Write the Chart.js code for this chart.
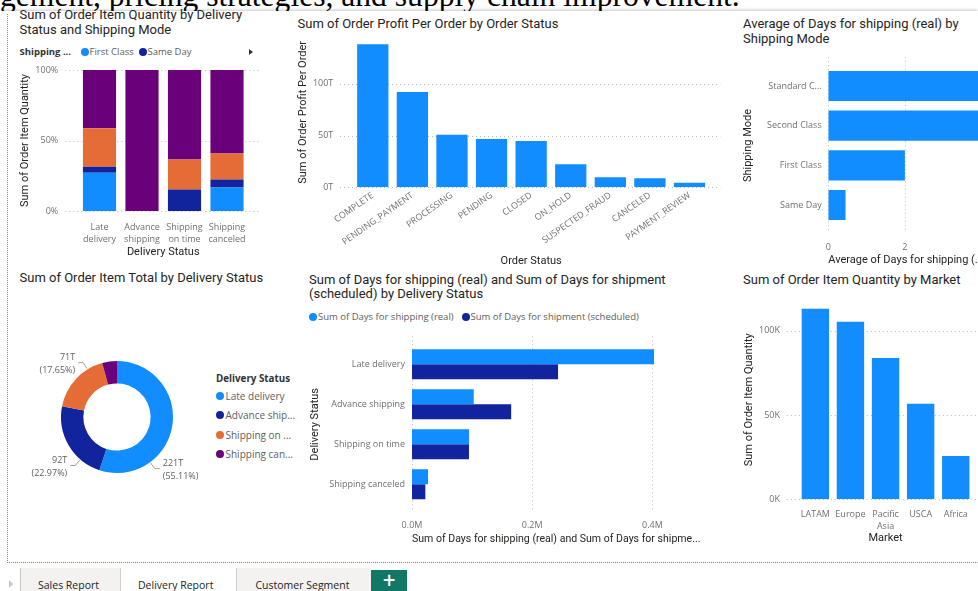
<!DOCTYPE html>
<html><head><meta charset="utf-8">
<script src="https://cdn.jsdelivr.net/npm/chart.js@4.4.0/dist/chart.umd.min.js"></script>
<style>
html,body{margin:0;padding:0;background:#fff;}
body{width:978px;height:591px;overflow:hidden;position:relative;font-family:'Open Sans',sans-serif;}
.abs{position:absolute;white-space:nowrap;}
#hdr{left:0;top:-19.6px;font-family:'Liberation Serif','Times New Roman',serif;font-size:31.6px;line-height:32px;color:#000;}
#dash{left:0;top:11px;width:978px;height:580px;background:#fff;box-shadow:0 -1px 3px rgba(0,0,0,.22);}
#frame{left:7px;top:14px;width:990px;height:548px;border-left:1px dotted #8a8a8a;border-bottom:1px dotted #8a8a8a;}
.title{font-family:Roboto,sans-serif;font-size:13px;line-height:14.5px;color:#252423;}
canvas{position:absolute;}
</style></head>
<body>
<div id="hdr" class="abs">gement, pricing strategies, and supply chain improvement.</div>
<div id="dash" class="abs"></div>
<div id="frame" class="abs"></div>

<div class="abs title" style="left:19.5px;top:8.25px">Sum of Order Item Quantity by Delivery<br>Status and Shipping Mode</div>
<div class="abs title" style="left:297.5px;top:17px">Sum of Order Profit Per Order by Order Status</div>
<div class="abs title" style="left:743px;top:17px">Average of Days for shipping (real) by<br>Shipping Mode</div>
<div class="abs title" style="left:19.5px;top:271px">Sum of Order Item Total by Delivery Status</div>
<div class="abs title" style="left:309px;top:272.7px">Sum of Days for shipping (real) and Sum of Days for shipment<br>(scheduled) by Delivery Status</div>
<div class="abs title" style="left:743px;top:272.7px">Sum of Order Item Quantity by Market</div>

<!-- tab bar -->
<div class="abs" style="left:9px;top:580px;width:0;height:0;border-left:4px solid #c8c6c4;border-top:4px solid transparent;border-bottom:4px solid transparent"></div>
<div class="abs" style="left:20px;top:568px;width:100px;height:23px;background:#f3f2f1;border-left:1px solid #c8c6c4;box-sizing:border-box"></div>
<div class="abs" style="left:120px;top:568px;width:117px;height:23px;background:#fff;border-left:1px solid #d2d0ce;border-right:1px solid #d2d0ce;box-sizing:border-box"></div>
<div class="abs" style="left:237px;top:568px;width:134px;height:23px;background:#f3f2f1"></div>
<div class="abs" style="left:371px;top:570px;width:36px;height:21px;background:#117865;color:#fff;font:bold 17px/21px 'DejaVu Sans',sans-serif;text-align:center">+</div>

<script>
// ---------------- DATA ----------------
const deliveryStatus = ['Late delivery', 'Advance shipping', 'Shipping on time', 'Shipping canceled'];
const shippingModes = ['First Class', 'Same Day', 'Second Class', 'Standard Class'];
// share (%) of order item quantity per shipping mode, for each delivery status
const pctFirstClass    = [27.1, 0, 0, 16.7];
const pctSameDay       = [4.3, 0, 15.3, 5.7];
const pctSecondClass   = [27.3, 0, 21.3, 18.4];
const pctStandardClass = [41.3, 100, 63.4, 59.2];
const pctTicks = [0, 50, 100];
const pctTickLabels = ['0%', '50%', '100%'];

const orderStatus = ['COMPLETE', 'PENDING_PAYMENT', 'PROCESSING', 'PENDING', 'CLOSED', 'ON_HOLD', 'SUSPECTED_FRAUD', 'CANCELED', 'PAYMENT_REVIEW'];
const profitPerOrderT = [138.3, 92.2, 50.9, 46.7, 44.8, 22.2, 9.7, 8.7, 4.5];
const profitTicks = [0, 50, 100];
const profitTickLabels = ['0T', '50T', '100T'];

const shipModeRows = ['Standard Class', 'Second Class', 'First Class', 'Same Day'];
const avgDaysReal = [4.0, 3.99, 2.0, 0.45];
const avgDaysTicks = [0, 2, 4];
const avgDaysTickLabels = ['0', '2', '4'];

const itemTotalT = [221.16, 92.18, 70.83, 17.14];

const daysReal = [402700, 102700, 94800, 26600];
const daysScheduled = [243000, 165000, 94800, 22200];
const daysTicks = [0, 200000, 400000];
const daysTickLabels = ['0.0M', '0.2M', '0.4M'];

const markets = ['LATAM', 'Europe', 'Pacific Asia', 'USCA', 'Africa'];
const marketQty = [113000, 105300, 83800, 56700, 25700];
const qtyTicks = [0, 50000, 100000];
const qtyTickLabels = ['0K', '50K', '100K'];

// ---------------- STYLE ----------------
const C_BLUE = '#118DFF', C_NAVY = '#12239E', C_ORANGE = '#E66C37', C_PURPLE = '#6B007B';
const TICK_FONT = {family: "'Open Sans', sans-serif", size: 9, lineHeight: 1.4};
const TICK_COLOR = '#707070';
const AX_FONT = {family: 'Roboto, sans-serif', size: 11, lineHeight: 1.2};
const AX_COLOR = '#252423';

// ---------------- HTML helpers ----------------
function addText(txt, left, cy, css) {
  const d = document.createElement('div');
  d.className = 'abs';
  d.textContent = txt;
  Object.assign(d.style, {left: left + 'px', top: (cy - 7) + 'px', lineHeight: '14px', fontSize: '9.5px', color: '#605e5c'}, css || {});
  document.body.appendChild(d);
}
function addDot(cx, cy, color, size) {
  const s = size || 8;
  const d = document.createElement('div');
  d.className = 'abs';
  Object.assign(d.style, {left: (cx - s / 2) + 'px', top: (cy - s / 2) + 'px', width: s + 'px', height: s + 'px', borderRadius: '50%', background: color});
  document.body.appendChild(d);
}

// legends
addText('Shipping ...', 19.5, 52, {fontWeight: 'bold', color: '#333'});
addDot(84.5, 52, C_BLUE); addText(shippingModes[0], 89.5, 52);
addDot(142.7, 52, C_NAVY); addText(shippingModes[1], 147.5, 52);
(function(){const d=document.createElement('div');d.className='abs';Object.assign(d.style,{left:'249px',top:'48.5px',width:0,height:0,borderLeft:'4px solid #333',borderTop:'3.5px solid transparent',borderBottom:'3.5px solid transparent'});document.body.appendChild(d);})();

addText('Delivery Status', 216, 379, {fontWeight: 'bold', color: '#333', fontSize: '9.8px'});
const donutLegendText = ['Late delivery', 'Advance ship...', 'Shipping on ...', 'Shipping can...'];
const donutColors = [C_BLUE, C_NAVY, C_ORANGE, C_PURPLE];
[396, 415.3, 434.7, 454].forEach((y, i) => { addDot(220, y, donutColors[i]); addText(donutLegendText[i], 225.5, y, {fontSize: '10px'}); });

addDot(313, 317, C_BLUE); addText('Sum of Days for shipping (real)', 318, 317);
addDot(465.5, 317, C_NAVY); addText('Sum of Days for shipment (scheduled)', 470.5, 317);

// tab labels
addText('Sales Report', 38, 585, {fontSize: '10.5px', color: '#252423'});
addText('Delivery Report', 138, 585, {fontSize: '10.5px', color: '#201f1e'});
addText('Customer Segment', 255.5, 585, {fontSize: '10.5px', color: '#252423'});

// ---------------- Chart helpers ----------------
const dotGrid = {
  id: 'dotGrid',
  beforeDatasetsDraw(chart, args, opts) {
    const s = chart.scales[opts.axis];
    const ca = chart.chartArea;
    const ctx = chart.ctx;
    ctx.save();
    ctx.strokeStyle = '#bdbbb9';
    ctx.lineWidth = 1;
    ctx.setLineDash([1, 3]);
    s.ticks.forEach(t => {
      const p = Math.round(s.getPixelForValue(t.value)) + 0.5;
      ctx.beginPath();
      if (s.isHorizontal()) { ctx.moveTo(p, ca.top - opts.ext[0]); ctx.lineTo(p, ca.bottom + opts.ext[1]); }
      else { ctx.moveTo(ca.left - opts.ext[0], p); ctx.lineTo(ca.right + opts.ext[1], p); }
      ctx.stroke();
    });
    ctx.restore();
  }
};

function mkCanvas(L, T, R, B) {
  const c = document.createElement('canvas');
  c.width = R - L; c.height = B - T;
  Object.assign(c.style, {left: L + 'px', top: T + 'px', width: (R - L) + 'px', height: (B - T) + 'px'});
  document.body.appendChild(c);
  return c;
}

function makeChart(rect, plot, cfg) {
  const [L, T, R, B] = rect, [pl, pt, pr, pb] = plot;
  const c = mkCanvas(L, T, R, B);
  const o = cfg.options;
  o.responsive = false; o.animation = false; o.devicePixelRatio = 1;
  o.layout = {autoPadding: false, padding: {left: 0, top: pt - T, right: R - pr, bottom: 0}};
  o.plugins = Object.assign({legend: {display: false}, tooltip: {enabled: false}}, o.plugins || {});
  const xH = B - pb, yW = pl - L;
  o.scales.x.afterFit = s => { s.height = xH; };
  o.scales.y.afterFit = s => { s.width = yW; };
  return new Chart(c, cfg);
}

// the gap between plot and labels is given through an invisible tick length
function catAxis(gap, title, extra, tickExtra) {
  return Object.assign({
    type: 'category', offset: true,
    grid: {display: false, drawTicks: true, tickLength: gap}, border: {display: false},
    ticks: Object.assign({font: TICK_FONT, color: TICK_COLOR, padding: 0, autoSkip: false, maxRotation: 0, minRotation: 0}, tickExtra || {}),
    title: title
  }, extra || {});
}
function valAxis(min, max, vals, labels, gap, title, extra) {
  return Object.assign({
    type: 'linear', min: min, max: max,
    grid: {display: false, drawTicks: true, tickLength: gap}, border: {display: false},
    afterBuildTicks: s => { s.ticks = vals.map(v => ({value: v})); },
    ticks: {font: TICK_FONT, color: TICK_COLOR, padding: 0, callback: (v, i) => labels[i]},
    title: title
  }, extra || {});
}
function leftTitle(text, padTop) { return {display: true, text: text, color: AX_COLOR, font: AX_FONT, padding: {top: padTop, bottom: 0}}; }
function bottomTitle(text, padBottom, align) { return {display: true, text: text, color: AX_COLOR, font: AX_FONT, align: align || 'center', padding: {top: 0, bottom: padBottom}}; }
const splitFirst = s => { const i = s.indexOf(' '); return i < 0 ? s : [s.slice(0, i), s.slice(i + 1)]; };

// ---------------- Chart 1: 100% stacked columns ----------------
makeChart([10, 60, 262, 262], [78.25, 70, 248.25, 211], {
  type: 'bar',
  data: {
    labels: deliveryStatus.map(splitFirst),
    datasets: [
      {label: shippingModes[0], data: pctFirstClass, backgroundColor: C_BLUE},
      {label: shippingModes[1], data: pctSameDay, backgroundColor: C_NAVY},
      {label: shippingModes[2], data: pctSecondClass, backgroundColor: C_ORANGE},
      {label: shippingModes[3], data: pctStandardClass, backgroundColor: C_PURPLE}
    ].map(d => Object.assign(d, {borderWidth: 0, categoryPercentage: 0.78, barPercentage: 1}))
  },
  options: {
    scales: {
      x: catAxis(9.7, bottomTitle('Delivery Status', 3.4), {stacked: true}),
      y: valAxis(0, 100, pctTicks, pctTickLabels, 20, leftTitle('Sum of Order Item Quantity', 8.4), {stacked: true})
    },
    plugins: {dotGrid: {axis: 'y', ext: [13, 12]}}
  },
  plugins: [dotGrid]
});

// ---------------- Chart 2: profit by order status ----------------
makeChart([292, 30, 725, 270], [353, 37.4, 709.3, 187.3], {
  type: 'bar',
  data: {
    labels: orderStatus,
    datasets: [{data: profitPerOrderT, backgroundColor: C_BLUE, borderWidth: 0, categoryPercentage: 0.79, barPercentage: 1}]
  },
  options: {
    scales: {
      x: catAxis(2, bottomTitle('Order Status', 2.4), {}, {minRotation: 35, maxRotation: 35}),
      y: valAxis(0, 145, profitTicks, profitTickLabels, 19.7, leftTitle('Sum of Order Profit Per Order', 4.7))
    },
    plugins: {dotGrid: {axis: 'y', ext: [13, 11]}}
  },
  plugins: [dotGrid]
});

// ---------------- Chart 3: avg days by shipping mode (horizontal) ----------------
makeChart([735, 50, 1100, 270], [828.3, 66.2, 1019.8, 224.8], {
  type: 'bar',
  data: {
    labels: shipModeRows,
    datasets: [{data: avgDaysReal, backgroundColor: C_BLUE, borderWidth: 0, categoryPercentage: 0.76, barPercentage: 1}]
  },
  options: {
    indexAxis: 'y',
    scales: {
      y: catAxis(6.6, leftTitle('Shipping Mode', 6.4), {}, {
        callback: function(v) { const s = this.getLabelForValue(v); return s.length > 12 ? s.slice(0, 10) + '...' : s; }}),
      x: valAxis(0, 5, avgDaysTicks, avgDaysTickLabels, 16.5, bottomTitle('Average of Days for shipping (...', 3.4, 'start'))
    },
    plugins: {dotGrid: {axis: 'x', ext: [9, 8]}}
  },
  plugins: [dotGrid]
});

// ---------------- Chart 4: donut ----------------
const donutLabels = {
  id: 'donutLabels',
  afterDatasetsDraw(chart, args, opts) {
    const meta = chart.getDatasetMeta(0);
    const data = chart.data.datasets[0].data;
    const total = data.reduce((a, b) => a + b, 0);
    const ctx = chart.ctx;
    ctx.save();
    meta.data.forEach((arc, i) => {
      const pct = data[i] / total * 100;
      if (pct < opts.minPct) return;
      const p = arc.getProps(['x', 'y', 'startAngle', 'endAngle', 'outerRadius'], true);
      const a = p.startAngle + (p.endAngle - p.startAngle) * opts.anchor[i];
      const dx = Math.cos(a), dy = Math.sin(a);
      const r = p.outerRadius;
      const ex = p.x + dx * (r + 8), ey = p.y + dy * (r + 8);
      const side = dx >= 0 ? 1 : -1;
      ctx.strokeStyle = '#a19f9d'; ctx.lineWidth = 1;
      ctx.beginPath();
      ctx.moveTo(p.x + dx * (r + 1), p.y + dy * (r + 1));
      ctx.lineTo(ex, ey);
      ctx.lineTo(ex + side * 5, ey);
      ctx.stroke();
      ctx.fillStyle = '#605e5c';
      ctx.font = "9px 'Open Sans', sans-serif";
      ctx.textAlign = side > 0 ? 'left' : 'right';
      ctx.textBaseline = 'middle';
      const tx = ex + side * 8;
      ctx.fillText(Math.round(data[i]) + 'T', tx, ey - 5);
      ctx.fillText('(' + pct.toFixed(2) + '%)', tx, ey + 7.5);
    });
    ctx.restore();
  }
};
(function(){
  const c = mkCanvas(10, 330, 224, 500);
  new Chart(c, {
    type: 'doughnut',
    data: {labels: deliveryStatus, datasets: [{data: itemTotalT, backgroundColor: donutColors, borderWidth: 0}]},
    options: {
      responsive: false, animation: false, devicePixelRatio: 1, cutout: '60%',
      layout: {autoPadding: false, padding: {left: 51, right: 51, top: 31, bottom: 27}},
      plugins: {legend: {display: false}, tooltip: {enabled: false}, donutLabels: {minPct: 5, anchor: [0.725, 0.27, 0.74, 0.5]}}
    },
    plugins: [donutLabels]
  });
})();

// ---------------- Chart 5: grouped horizontal ----------------
makeChart([305, 325, 725, 548], [412, 344.3, 700.5, 504.3], {
  type: 'bar',
  data: {
    labels: deliveryStatus,
    datasets: [
      {label: 'Sum of Days for shipping (real)', data: daysReal, backgroundColor: C_BLUE},
      {label: 'Sum of Days for shipment (scheduled)', data: daysScheduled, backgroundColor: C_NAVY}
    ].map(d => Object.assign(d, {borderWidth: 0, categoryPercentage: 0.75, barPercentage: 1}))
  },
  options: {
    indexAxis: 'y',
    scales: {
      y: catAxis(7, leftTitle('Delivery Status', 3.4)),
      x: valAxis(0, 480000, daysTicks, daysTickLabels, 15.3, bottomTitle('Sum of Days for shipping (real) and Sum of Days for shipme...', 2.4, 'start'))
    },
    plugins: {dotGrid: {axis: 'x', ext: [8, 6]}}
  },
  plugins: [dotGrid]
});

// ---------------- Chart 6: quantity by market ----------------
makeChart([735, 290, 1000, 548], [797.8, 300.3, 973.3, 499.3], {
  type: 'bar',
  data: {
    labels: markets.map(splitFirst),
    datasets: [{data: marketQty, backgroundColor: C_BLUE, borderWidth: 0, categoryPercentage: 0.78, barPercentage: 1}]
  },
  options: {
    scales: {
      x: catAxis(8.4, bottomTitle('Market', 3.1)),
      y: valAxis(0, 118000, qtyTicks, qtyTickLabels, 17.8, leftTitle('Sum of Order Item Quantity', 7.4))
    },
    plugins: {dotGrid: {axis: 'y', ext: [11, 30]}}
  },
  plugins: [dotGrid]
});
</script>
</body></html>
